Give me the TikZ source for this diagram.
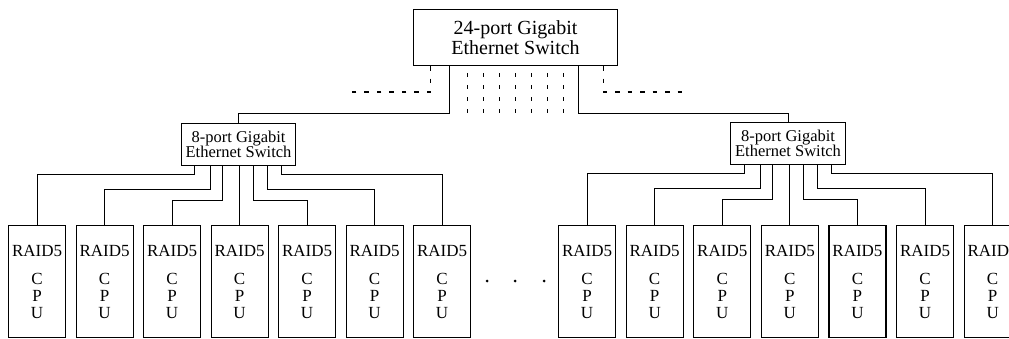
\documentclass[tikz,border=0pt]{standalone}
\usepackage{fontspec}
\setmainfont{Liberation Serif}
\begin{document}
\begin{tikzpicture}[x=1pt,y=-1pt, line width=1.1pt,
  swbox/.style={draw, align=center, inner sep=0pt, anchor=north west},
  srv/.style={draw, anchor=north west, minimum width=57pt, minimum height=112pt, inner sep=0pt, align=center, font=\fontsize{17}{17}\selectfont},
  dsh/.style={dash pattern=on 4.5pt off 8pt}]
\useasboundingbox (0,0) rectangle (1009,339);
\clip (0,0) rectangle (1009,339);
% switches
\node[swbox, minimum width=204pt, minimum height=56pt, font=\fontsize{20}{20}\selectfont] (T) at (413,9) {24-port Gigabit\\Ethernet Switch};
\node[swbox, minimum width=114pt, minimum height=42pt, font=\fontsize{16.5}{15.5}\selectfont] (L) at (181,123) {8-port Gigabit\\Ethernet Switch};
\node[swbox, minimum width=115pt, minimum height=42pt, font=\fontsize{16.5}{15.5}\selectfont] (R) at (730,122) {8-port Gigabit\\Ethernet Switch};
% servers
\foreach \i in {1,...,7}{
  \node[srv] (a\i) at ({8+67.5*(\i-1)},225) {RAID5\\[11pt]C\\P\\U};
  \node[srv] (b\i) at ({558+67.6*(\i-1)},225) {RAID5\\[11pt]C\\P\\U};
}
% top connections
\draw ([xshift=-66pt]T.south) -- ++(0pt,-47pt) -| (L.north);
\draw ([xshift=63pt]T.south) -- ++(0pt,-47pt) -| (R.north);
\coordinate (dl) at (345,92);
\coordinate (dr) at (682,92);
\draw[dsh] ([xshift=-85pt]T.south) |- (dl);
\draw[dsh] ([xshift=88pt]T.south) |- (dr);
\foreach \d in {-48,-32,-16,0,16,32,48}
  \draw[dash pattern=on 4pt off 8pt, dash phase=5pt] ([xshift=\d pt]T.south) -- ++(0pt,-48pt);
% switches to servers
\foreach \s/\o in {L/a, R/b}{
  \draw ([xshift=-44pt]\s.south) -- ++(0pt,-8pt) -| (\o1.north);
  \draw ([xshift=-28pt]\s.south) -- ++(0pt,-23pt) -| (\o2.north);
  \draw ([xshift=-16pt]\s.south) -- ++(0pt,-34pt) -| (\o3.north);
  \draw (\o4.north |- \s.south) -- (\o4.north);
  \draw ([xshift=15pt]\s.south) -- ++(0pt,-34pt) -| (\o5.north);
  \draw ([xshift=29pt]\s.south) -- ++(0pt,-23pt) -| (\o6.north);
  \draw ([xshift=43pt]\s.south) -- ++(0pt,-8pt) -| (\o7.north);
}
% ellipsis dots
\fill (487,281) circle (1.5pt);
\fill (515,281) circle (1.5pt);
\fill (544,281) circle (1.5pt);
\end{tikzpicture}
\end{document}
